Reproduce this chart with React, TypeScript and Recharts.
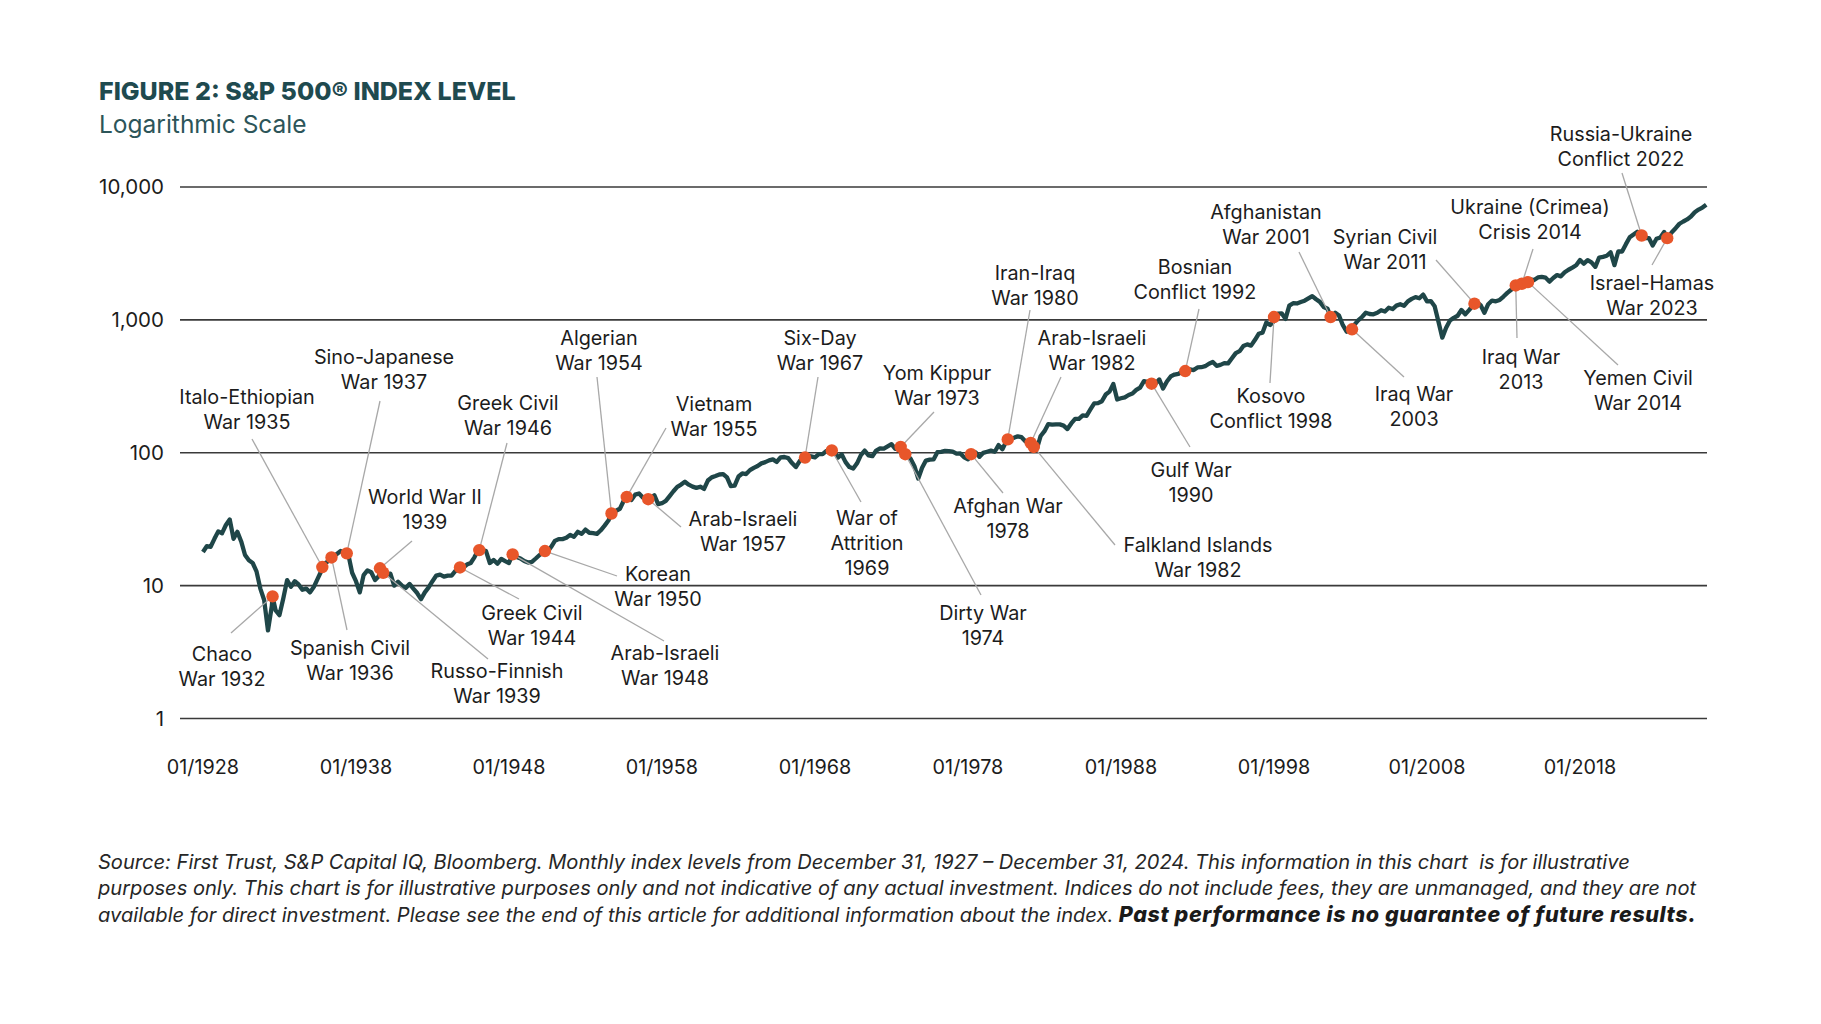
import { ComposedChart, Line, Scatter, XAxis, YAxis, CartesianGrid } from 'recharts';

// quarterly index levels (Jan, Apr, Jul, Oct), starting 01/1928
const firstYear = 1928;
const levels = [
  17.9, 19.8, 19.6, 22.5, // 1928
  25.6, 24.8, 28.6, 31.5,
  22.5, 25.4, 21.5, 17.0, // 1930
  15.5, 14.8, 12.8, 9.5,
  7.8, 4.6, 7.0, 6.5,
  6.0, 8.0, 11.0, 9.8,
  10.8, 10.2, 9.3, 9.5,
  8.9, 9.8, 11.3, 13.0,
  14.8, 15.4, 16.4, 17.3,
  18.2, 17.4, 17.2, 12.5,
  10.8, 8.9, 12.0, 13.0,
  12.6, 11.0, 11.8, 13.1,
  12.1, 12.3, 10.0, 10.7, // 1940
  10.0, 9.6, 10.3, 9.5,
  8.8, 7.9, 8.9, 9.7,
  10.8, 11.9, 12.1, 11.7,
  11.9, 11.9, 12.9, 13.2,
  13.6, 14.4, 14.8, 16.4,
  18.6, 18.6, 18.2, 14.8,
  15.6, 14.6, 15.9, 15.3,
  14.8, 17.0, 16.4, 16.0,
  15.3, 14.9, 15.1, 16.0,
  17.0, 18.0, 17.8, 19.5, // 1950
  21.7, 22.4, 22.4, 22.9,
  24.1, 23.3, 25.4, 24.5,
  26.4, 25.0, 24.8, 24.5,
  26.1, 28.3, 30.9, 35.5,
  36.6, 37.9, 43.5, 45.5,
  44.0, 48.4, 49.4, 46.0,
  44.5, 45.7, 47.9, 41.1,
  41.7, 43.4, 47.2, 51.3,
  55.4, 57.6, 60.5, 57.5,
  55.6, 54.4, 55.5, 53.4, // 1960
  61.8, 65.3, 66.8, 68.6,
  69.0, 65.2, 56.0, 56.5,
  66.2, 69.8, 69.1, 74.0,
  77.0, 79.5, 83.2, 85.0,
  87.6, 89.1, 85.3, 92.4,
  92.9, 91.1, 83.6, 78.0,
  86.6, 94.0, 94.8, 93.9,
  92.2, 97.5, 97.7, 103.4,
  103.0, 103.7, 91.8, 97.1,
  85.0, 78.0, 76.0, 83.3, // 1970
  95.9, 103.9, 95.6, 94.2,
  103.9, 107.7, 107.4, 111.6,
  116.0, 106.9, 108.2, 108.3,
  96.6, 90.3, 79.3, 64.0,
  77.0, 87.3, 88.8, 89.0,
  100.9, 101.6, 103.4, 102.9,
  102.0, 98.4, 98.9, 92.3,
  89.3, 96.8, 100.7, 93.2,
  99.9, 101.8, 103.8, 101.8,
  114.2, 106.3, 121.7, 127.5, // 1980
  129.6, 132.8, 130.9, 121.9,
  120.4, 116.4, 107.1, 133.7,
  145.3, 164.4, 162.6, 163.6,
  163.4, 160.1, 150.7, 166.1,
  179.6, 179.8, 190.9, 189.8,
  211.8, 235.5, 236.1, 244.0,
  274.1, 288.4, 329.0, 251.8,
  257.1, 261.3, 272.0, 279.0,
  297.5, 309.6, 346.1, 340.4,
  329.1, 330.8, 356.2, 304.0, // 1990
  343.9, 375.3, 387.8, 392.5,
  408.8, 415.0, 424.2, 418.7,
  438.8, 440.2, 448.1, 467.8,
  481.6, 450.9, 458.3, 472.4,
  470.4, 514.7, 562.1, 581.5,
  636.0, 654.2, 640.0, 705.3,
  786.2, 801.3, 954.3, 914.6,
  980.3, 1111.8, 1120.7, 1017.0,
  1279.6, 1335.2, 1328.7, 1362.9,
  1394.5, 1452.4, 1510.0, 1429.4, // 2000
  1366.0, 1249.5, 1211.2, 1059.8,
  1130.2, 1076.9, 911.6, 815.0,
  855.7, 916.9, 990.3, 1050.7,
  1131.1, 1107.3, 1101.7, 1130.2,
  1181.3, 1156.9, 1234.2, 1207.0,
  1280.1, 1310.6, 1276.7, 1377.9,
  1438.2, 1482.4, 1455.3, 1549.4,
  1378.6, 1385.6, 1267.4, 968.8,
  735.0, 872.8, 987.5, 1036.2,
  1073.9, 1186.7, 1101.6, 1183.3, // 2010
  1286.1, 1363.6, 1292.3, 1131.4,
  1312.4, 1397.9, 1379.3, 1412.2,
  1498.1, 1597.6, 1685.7, 1780.0,
  1840.0, 1884.0, 1930.7, 2018.1,
  1995.0, 2085.5, 2103.8, 2079.4,
  1940.2, 2065.3, 2173.6, 2126.2,
  2278.9, 2384.2, 2470.3, 2575.3,
  2823.8, 2648.1, 2816.3, 2711.7,
  2506.9, 2945.8, 2980.4, 3037.6,
  3225.5, 2584.6, 3271.1, 3270.0, // 2020
  3714.2, 4181.2, 4395.3, 4605.4,
  4400.0, 4131.9, 4130.3, 3630.0,
  4076.6, 4169.5, 4589.0, 4193.8,
  4570.0, 4900.0, 5290.0, 5500.0,
  5700.0, 6000.0, 6460.0, 6760.0,
  7000.0, 7350.0,
];

const yearTicks = [1928, 1938, 1948, 1958, 1968, 1978, 1988, 1998, 2008, 2018];
const levelTicks = [1, 10, 100, 1000, 10000];

const eventLabels = [
  ['Chaco', 'War 1932'],
  ['Italo-Ethiopian', 'War 1935'],
  ['Spanish Civil', 'War 1936'],
  ['Sino-Japanese', 'War 1937'],
  ['World War II', '1939'],
  ['Russo-Finnish', 'War 1939'],
  ['Greek Civil', 'War 1944'],
  ['Greek Civil', 'War 1946'],
  ['Arab-Israeli', 'War 1948'],
  ['Korean', 'War 1950'],
  ['Algerian', 'War 1954'],
  ['Vietnam', 'War 1955'],
  ['Arab-Israeli', 'War 1957'],
  ['Six-Day', 'War 1967'],
  ['War of', 'Attrition', '1969'],
  ['Yom Kippur', 'War 1973'],
  ['Dirty War', '1974'],
  ['Afghan War', '1978'],
  ['Iran-Iraq', 'War 1980'],
  ['Arab-Israeli', 'War 1982'],
  ['Falkland Islands', 'War 1982'],
  ['Gulf War', '1990'],
  ['Bosnian', 'Conflict 1992'],
  ['Kosovo', 'Conflict 1998'],
  ['Afghanistan', 'War 2001'],
  ['Iraq War', '2003'],
  ['Syrian Civil', 'War 2011'],
  ['Iraq War', '2013'],
  ['Ukraine (Crimea)', 'Crisis 2014'],
  ['Yemen Civil', 'War 2014'],
  ['Russia-Ukraine', 'Conflict 2022'],
  ['Israel-Hamas', 'War 2023'],
];
const eventTimes = [
  1932.55, 1935.8, 1936.4, 1937.4, 1939.57, 1939.78, 1944.8, 1946.06,
  1948.24, 1950.35, 1954.7, 1955.7, 1957.1, 1967.35, 1969.1, 1973.6,
  1973.9, 1978.2, 1980.6, 1982.1, 1982.3, 1990.0, 1992.2, 1998.0,
  2001.7, 2003.1, 2011.1, 2013.8, 2014.2, 2014.6, 2022.03, 2023.7,
];
const eventLevels = [
  8.3, 13.8, 16.3, 17.5, 13.5, 12.5, 13.7, 18.5,
  17.2, 18.2, 34.9, 46.5, 44.7, 92, 104, 110.6,
  97.5, 97.5, 126, 118.5, 110.6, 331, 412, 1050,
  1050, 849, 1324, 1816, 1870, 1923, 4315, 4120,
];

// label centre (first line) and leader-line start, in page pixels
const labelSpots = [
  [222, 654, 231, 633], [247, 397, 252, 439], [350, 648, 347, 630], [384, 357, 380, 401],
  [425, 497, 412, 541], [497, 671, 488, 659], [532, 613, 519, 599], [508, 403, 507, 443],
  [665, 653, 664, 641], [658, 574, 617, 576], [599, 338, 597, 377], [714, 404, 666, 428],
  [743, 519, 681, 527], [820, 338, 818, 377], [867, 518, 861, 502], [937, 373, 934, 412],
  [983, 613, 981, 595], [1008, 506, 1003, 493], [1035, 273, 1030, 310], [1092, 338, 1061, 377],
  [1198, 545, 1115, 545], [1191, 470, 1190, 447], [1195, 267, 1199, 309], [1271, 396, 1270, 383],
  [1266, 212, 1299, 252], [1414, 394, 1404, 377], [1385, 237, 1436, 260], [1521, 357, 1517, 338],
  [1530, 207, 1533, 249], [1638, 378, 1618, 365], [1621, 134, 1622, 173], [1652, 283, 1652, 265],
];

const PAGE = 8; // body margin
const INK = '#1c1c1c';
const TEAL = '#1f4a4f';

const series = [
  ...levels.map((v, i) => ({ t: firstYear + i / 4, v })),
  ...eventTimes.map((t, i) => ({ t, v: eventLevels[i] })),
].sort((a, b) => a.t - b.t);

const events = eventTimes.map((t, i) => ({ t, v: eventLevels[i], i }));

const EventMark = (props: any) => {
  const { cx, cy, payload } = props;
  const [lx, ly, ax, ay] = labelSpots[payload.i];
  const lines = eventLabels[payload.i];
  return (
    <g>
      <line x1={ax - PAGE} y1={ay - PAGE} x2={cx} y2={cy} stroke="#a8a8a8" strokeWidth={1.3} />
      <circle cx={cx} cy={cy} r={6.2} fill="#e8562a" />
      <text x={lx - PAGE} y={ly - PAGE} textAnchor="middle" fontSize={19.8} fill={INK} fontFamily="Inter">
        {lines.map((s, k) => (
          <tspan key={k} x={lx - PAGE} dy={k === 0 ? '0.36em' : 25}>{s}</tspan>
        ))}
      </text>
    </g>
  );
};

const noteLines = [
  'Source: First Trust, S&P Capital IQ, Bloomberg. Monthly index levels from December 31, 1927 – December 31, 2024. This information in this chart  is for illustrative',
  'purposes only. This chart is for illustrative purposes only and not indicative of any actual investment. Indices do not include fees, they are unmanaged, and they are not',
  'available for direct investment. Please see the end of this article for additional information about the index. ',
];

export default function App() {
  return (
    <div style={{ position: 'relative', width: 1805, height: 1000, fontFamily: 'Inter, sans-serif', background: '#fff' }}>
      <div style={{ position: 'absolute', left: 91, top: 71, fontSize: 25, lineHeight: '25px', fontWeight: 800, letterSpacing: '0px', color: TEAL, whiteSpace: 'nowrap' }}>
        FIGURE 2: S&amp;P 500® INDEX LEVEL
      </div>
      <div style={{ position: 'absolute', left: 91, top: 104, fontSize: 24.5, lineHeight: '24.5px', color: '#2c5559', whiteSpace: 'nowrap' }}>
        Logarithmic Scale
      </div>

      <div style={{ position: 'absolute', left: 0, top: 0 }}>
        <ComposedChart width={1805} height={800} margin={{ top: 179, right: 106, bottom: 29.5, left: 72 }}>
          <CartesianGrid vertical={false} stroke="#3a3a3a" strokeWidth={1.6} />
          <XAxis
            dataKey="t"
            type="number"
            domain={[1926.5, 2026.3]}
            ticks={yearTicks}
            tickFormatter={(v) => `01/${v}`}
            axisLine={false}
            tickLine={false}
            tickSize={0}
            tickMargin={41}
            height={60}
            tick={{ fontSize: 19.8, fill: INK, fontFamily: 'Inter' }}
          />
          <YAxis
            type="number"
            scale="log"
            domain={[1, 10000]}
            ticks={levelTicks}
            tickFormatter={(v) => Number(v).toLocaleString('en-US')}
            axisLine={false}
            tickLine={false}
            tickSize={0}
            tickMargin={16}
            width={100}
            tick={{ fontSize: 20.5, fill: INK, fontFamily: 'Inter' }}
          />
          <Line
            data={series}
            dataKey="v"
            type="linear"
            stroke="#1f4648"
            strokeWidth={4.3}
            strokeLinejoin="round"
            dot={false}
            isAnimationActive={false}
          />
          <Scatter data={events} dataKey="v" shape={EventMark} isAnimationActive={false} />
        </ComposedChart>
      </div>

      <div style={{ position: 'absolute', left: 90, top: 841, fontSize: 20.1, lineHeight: '26px', fontStyle: 'italic', color: '#262626', whiteSpace: 'pre' }}>
        <div>{noteLines[0]}</div>
        <div>{noteLines[1]}</div>
        <div>
          {noteLines[2]}
          <span style={{ fontWeight: 800, fontSize: 21.5, letterSpacing: '0.6px', color: '#1a1a1a' }}>Past performance is no guarantee of future results.</span>
        </div>
      </div>
    </div>
  );
}
